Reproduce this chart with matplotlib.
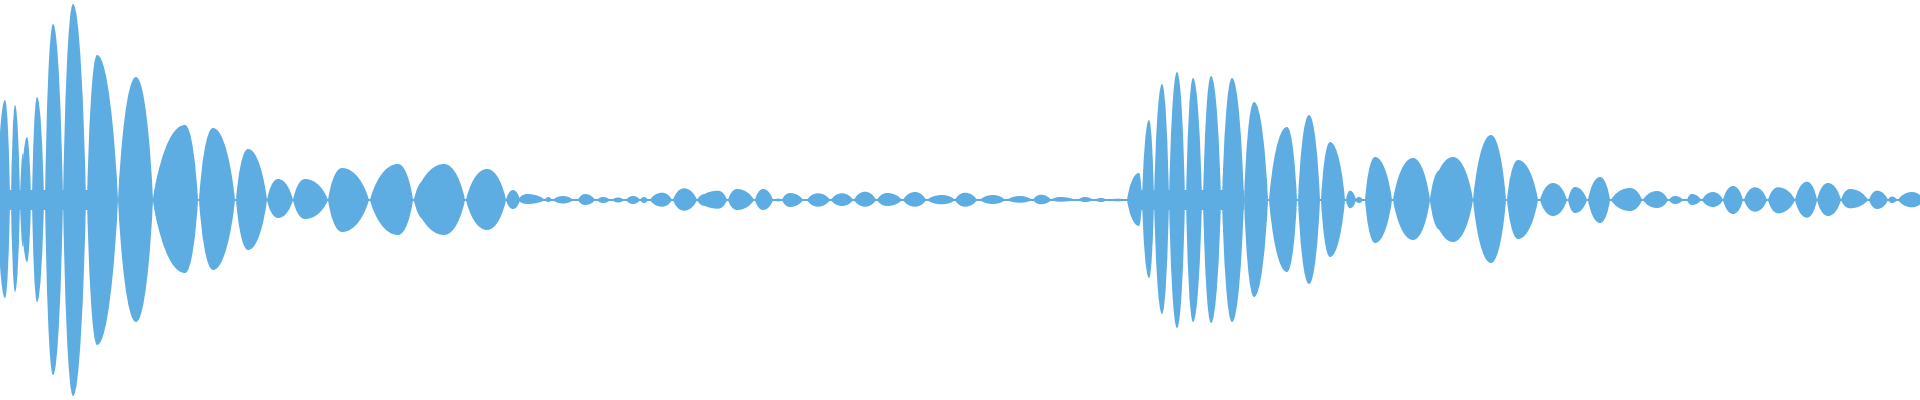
import numpy as np
import matplotlib
matplotlib.use("Agg")
import matplotlib.pyplot as plt
from matplotlib.path import Path
from matplotlib.patches import PathPatch
from matplotlib.collections import PatchCollection

# waveform envelope, one entry per lobe (x in pixel columns, amplitude in px of half-height 200)
lobe_x0 = [-3, 11, 20, 21, 32, 45, 63, 87, 118, 153, 153, 199, 236, 267, 293, 328, 370, 414, 414,
           466, 506, 518, 545, 553, 578, 597, 612, 626, 640, 650, 673, 697, 697, 728, 755, 775, 782,
           807, 831, 854, 877, 903, 927, 955, 980, 1007, 1033, 1051, 1078, 1095, 1110,
           1127, 1142, 1154, 1169, 1186, 1203, 1222, 1244, 1269, 1298, 1321, 1346, 1355, 1365, 1393,
           1430, 1430, 1473, 1507, 1540, 1568, 1588, 1611, 1643, 1669, 1687, 1702, 1723, 1744, 1768,
           1795, 1817, 1841, 1869, 1888, 1898]
lobe_x1 = [10, 20, 25, 31, 44, 63, 86, 118, 153, 198, 185, 235, 267, 293, 328, 369, 413, 465, 440,
           506, 520, 545, 552, 573, 595, 610, 624, 640, 648, 672, 697, 727, 712, 754, 773, 782, 803,
           830, 853, 876, 902, 926, 955, 977, 1005, 1032, 1051, 1075, 1093, 1107, 1127,
           1142, 1154, 1169, 1185, 1202, 1221, 1244, 1268, 1297, 1320, 1345, 1356, 1363, 1392, 1430,
           1473, 1450, 1506, 1538, 1567, 1587, 1610, 1642, 1668, 1683, 1701, 1723, 1743, 1767, 1795,
           1817, 1841, 1868, 1888, 1897, 1924]
lobe_xp = [5, 15, 23, 27, 37, 53, 73, 97, 136, 185, 168, 213, 248, 278, 305, 342, 398, 444, 425,
           487, 513, 527, 548, 563, 585, 603, 618, 633, 644, 662, 684, 718, 705, 737, 763, 778, 790,
           818, 842, 865, 887, 915, 942, 965, 993, 1020, 1041, 1060, 1085, 1101, 1118,
           1139, 1149, 1162, 1177, 1193, 1211, 1232, 1254, 1287, 1309, 1330, 1350, 1359, 1375, 1413,
           1453, 1440, 1491, 1518, 1553, 1575, 1600, 1630, 1657, 1675, 1692, 1713, 1733, 1755, 1778,
           1807, 1828, 1850, 1877, 1892, 1912]
amp_up = [100, 95, 47, 63, 103, 176, 196, 145, 123, 75, 42, 72, 51, 21, 21, 32, 36, 36, 20,
          31, 10, 6, 3, 4, 6, 3, 2.5, 4, 3, 7.3, 11.7, 9.3, 6, 11, 11, 1.5, 7,
          6.7, 6.7, 8.3, 7, 8, 5, 7.3, 5, 4, 5.3, 3, 3, 2, 1.3,
          27, 80, 116, 128, 122, 124, 122, 98, 73, 85, 58, 9.3, 3, 43, 42,
          43, 30, 65, 40, 17, 13, 23, 12, 9, 4, 6, 8, 14, 12.7, 12.7,
          18.3, 17, 11, 9.3, 3.5, 8]
amp_dn = [98, 92, 47, 62, 102, 175, 196, 145, 122, 73, 40, 70, 50, 18, 19, 32, 35, 35, 20,
          30, 9, 4, 2, 3.5, 5, 3, 2.5, 4, 3, 6.7, 10.7, 8.7, 6, 10, 10, 1.5, 7,
          6.7, 6, 6.7, 6, 6.7, 4.3, 6.7, 4, 2.7, 4.3, 1.7, 2, 2, 1.3,
          26, 78, 114, 128, 122, 123, 122, 97, 72, 84, 57, 8.3, 3, 43, 40,
          42, 30, 63, 39, 16, 13, 23, 11, 8, 4, 5, 7, 14, 11.7, 13.3,
          17.7, 16, 8.3, 9, 3, 7.3]

# flat band under the two loud bursts
band1_x = [0, 117]
band2_x = [1141, 1244]
band_amp = 10
line_amp = 1.3

color = "#5DADE2"

fig = plt.figure(figsize=(19.2, 4), dpi=100)
ax = fig.add_axes([0, 0, 1, 1])


def half(xa, xb, h):
    # one side of a lobe: node at xa, crest (flat tangent) at xb
    w = xb - xa
    return [(xa + 0.15 * w, 0.45 * h), (xa + 0.5 * w, h), (xb, h)]


patches = []
for x0, x1, xp, up, dn in zip(lobe_x0, lobe_x1, lobe_xp, amp_up, amp_dn):
    verts = [(x0, 0)]
    verts += half(x0, xp, up)
    verts += half(x1, xp, up)[::-1][1:] + [(x1, 0)]
    verts += half(x1, xp, -dn)
    verts += half(x0, xp, -dn)[::-1][1:] + [(x0, 0)]
    verts += [(x0, 0)]
    codes = [Path.MOVETO] + [Path.CURVE4] * 12 + [Path.CLOSEPOLY]
    patches.append(PathPatch(Path(verts, codes)))

ax.add_collection(PatchCollection(patches, facecolor=color, edgecolor="none", linewidth=0))
ax.fill_between(band1_x, -band_amp, band_amp, color=color, lw=0)
ax.fill_between(band2_x, -band_amp, band_amp, color=color, lw=0)
ax.fill_between([0, 1920], -line_amp, line_amp, color=color, lw=0)

ax.set_xlim(0, 1920)
ax.set_ylim(-200, 200)
ax.axis("off")

fig.savefig("out.png", dpi=100, facecolor="white")
